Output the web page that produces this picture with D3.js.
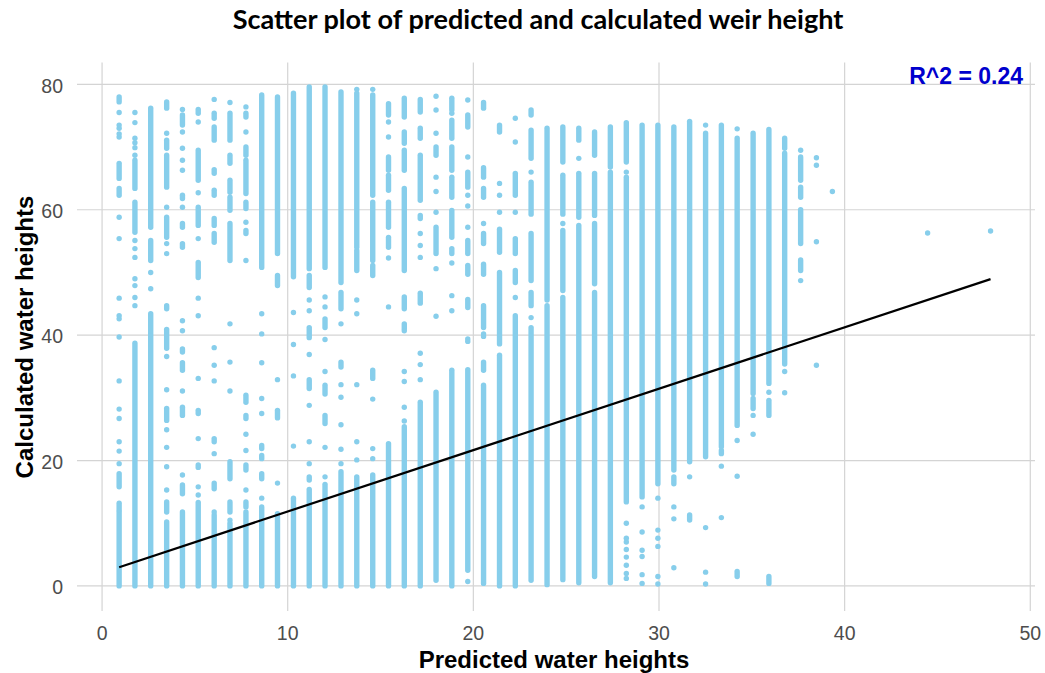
<!DOCTYPE html>
<html>
<head>
<meta charset="utf-8">
<script src="https://cdn.jsdelivr.net/npm/d3@7"></script>
<style>
  html, body { margin: 0; padding: 0; background: #ffffff; }
  svg { display: block; }
</style>
</head>
<body>
<svg id="chart" width="1045" height="673"></svg>
<script>
// Predicted water height of each column of observations
const predicted = [0.92, 1.77, 2.62, 3.48, 4.33, 5.18, 6.04, 6.89, 7.75, 8.60,
  9.45, 10.31, 11.16, 12.01, 12.87, 13.72, 14.58, 15.43, 16.28, 17.14,
  17.99, 18.84, 19.70, 20.55, 21.41, 22.26, 23.11, 23.97, 24.82, 25.68,
  26.53, 27.38, 28.24, 29.09, 29.94, 30.80, 31.65, 32.51, 33.36, 34.21,
  35.07, 35.92, 36.77, 37.63, 38.48, 39.34];

// Calculated water heights observed at each predicted value.
// A number is one observation; a [low, high] pair is a run of observations
// packed so tightly that they overlap into a continuous stripe.
const calculated = [
  [[0, 11.8], [12.1, 13.2], [15.8, 17.9], 19.5, 21.5, 23.0, 26.7, 28.2, 32.7, 39.7, 42.6, 43.1, 45.9, 55.4, 58.8, [62.3, 63.4], [65.0, 67.4], 71.6, 72.1, 73.0, 73.5, 75.5, [77.2, 78.0]],
  [[0, 38.7], 44.7, 46.0, 47.9, 49.0, 52.4, 53.8, 55.1, [56.4, 61.2], [63.4, 67.9], 68.7, 69.9, 70.7, 71.4, 73.9, 75.5],
  [[0, 43.4], 47.4, 50.0, [51.9, 55.1], [57.2, 76.2]],
  [[0, 10.2], [11.8, 13.4], 15.3, 19.0, 22.1, 24.9, [26.4, 28.3], 31.3, 36.6, [37.9, 40.9], [44.2, 44.7], 53.0, 54.6, [55.6, 58.8], 60.4, [63.6, 68.7], [69.8, 71.1], 72.2, [76.2, 77.2]],
  [[0, 11.8], [14.7, 16.1], 17.7, [27.2, 28.5], 31.1, [34.4, 35.6], [37.3, 37.8], 40.7, 42.3, [54.0, 54.6], [57.2, 57.8], 60.4, [61.8, 62.3], 66.3, 67.9, 69.8, 72.4, [73.5, 75.1], 76.0],
  [[0, 13.3], 14.5, 15.8, [18.9, 19.3], 23.5, [27.5, 28.0], 33.1, 43.1, 45.9, [49.2, 51.6], 55.4, [57.5, 60.4], 62.7, [64.7, 69.5], 74.0, [75.4, 76.0]],
  [[0, 11.3], 11.8, [15.5, 16.4], 21.1, [23.0, 23.5], 32.7, 35.2, 38.0, [54.8, 56.2], [57.5, 58.6], [62.3, 63.1], [65.8, 66.4], [71.1, 73.2], [74.6, 75.4], 77.6],
  [[0, 10.0], 10.5, [11.8, 13.4], [17.1, 19.8], 31.1, 35.7, 41.8, [51.9, 57.8], [59.9, 62.0], [62.8, 64.7], [67.4, 68.7], [71.1, 75.4], 77.1],
  [[0, 11.8], [12.6, 13.4], 15.3, [18.5, 19.3], 21.6, 24.2, [26.7, 27.2], [29.3, 30.4], 51.9, [56.2, 56.7], 58.0, [60.2, 61.2], [62.6, 67.9], [68.7, 70.0], 72.4, [74.8, 75.4], 76.4],
  [[0, 12.6], 14.0, [17.1, 17.9], [20.3, 20.8], [21.9, 22.4], 27.5, 29.9, 35.6, 40.2, 43.4, [50.8, 78.3]],
  [[0, 11.5], 16.4, [26.8, 28.0], 32.9, [47.9, 49.5], [53.0, 78.0]],
  [[0, 14.0], 22.3, 33.5, 38.5, 43.6, [49.3, 78.6]],
  [[0, 15.4], [16.9, 17.4], 19.5, 23.0, 28.8, [31.5, 32.9], 36.9, [39.6, 41.2], 43.9, 45.6, [47.6, 49.5], [50.6, 79.6]],
  [[0, 16.2], 17.4, 22.1, [25.9, 27.2], [30.6, 32.0], 34.2, 39.3, [41.2, 42.6], 44.5, 46.1, [50.8, 79.6]],
  [[0, 18.2], 19.5, 21.8, 25.7, 30.1, 32.1, [34.9, 35.7], 41.8, [44.2, 46.8], [48.4, 78.8]],
  [[0, 17.4], 20.1, 23.0, 32.1, 43.4, 45.6, [50.3, 53.5], [54.0, 78.6], 79.2],
  [[0, 17.7], 20.3, 21.9, 29.8, [33.1, 34.4], [49.5, 51.1], [51.9, 61.2], [62.3, 78.3], 79.2],
  [[0, 22.7], 44.5, 52.3, [54.0, 55.6], [57.2, 61.2], [63.1, 65.5], [66.3, 68.4], 71.6, 74.0, [75.1, 76.9]],
  [[0, 25.4], 26.3, 28.5, 32.6, 34.2, 40.7, [41.0, 41.8], [44.2, 46.1], [50.3, 63.4], [66.3, 69.5], [70.6, 72.4], [74.8, 77.8]],
  [[0, 29.3], 32.9, 35.3, 37.1, [45.1, 46.7], 52.4, 54.3, 56.2, [58.6, 59.1], [61.5, 68.7], [71.4, 73.0], [75.6, 77.6]],
  [[0.9, 30.9], 43.0, 50.6, [53.0, 57.2], 59.6, 62.9, 65.2, [68.7, 70.0], 72.2, 75.9, 78.1],
  [[0, 34.4], 43.9, 46.3, 51.5, [53.0, 53.8], [55.6, 59.9], [62.0, 65.2], [66.3, 70.0], [71.4, 74.3], 75.4, [75.9, 77.8]],
  [0.7, [2.5, 34.5], 39.0, 39.4, [44.4, 45.7], [49.7, 51.1], [53.0, 55.1], 57.2, 60.6, 62.3, [63.6, 66.0], 68.4, [73.2, 75.1], 77.5],
  [[0.4, 32.0], [34.4, 35.7], 39.8, 40.2, [41.2, 44.7], [49.7, 51.3], [54.6, 56.2], 57.8, [62.0, 63.4], [65.2, 66.7], [76.2, 77.1]],
  [[0, 36.8], [38.6, 50.0], [53.2, 56.9], 59.6, 62.3, 64.2, [72.4, 73.5]],
  [[0, 43.1], 46.0, [48.4, 50.3], [53.0, 55.4], 59.6, [62.3, 65.8], 70.8, 74.6],
  [[0.9, 41.2], 42.8, [44.7, 46.8], [48.7, 56.2], [59.3, 64.4], 66.0, [68.2, 72.7], [75.1, 75.9]],
  [[0.2, 44.7], [45.6, 73.0]],
  [[1.0, 46.0], [47.1, 56.7], 57.8, [59.3, 65.5], [67.6, 73.2]],
  [[0.5, 57.5], [58.8, 65.8], 68.2, [71.1, 73.0]],
  [[1.5, 46.8], [48.2, 57.8], [59.1, 65.8], [68.7, 72.4]],
  [[0.5, 66.0], [66.8, 73.2]],
  [1.2, 2.0, 3.3, 4.6, 5.8, 7.0, 7.6, 10.0, [13.4, 65.2], 66.0, [67.6, 73.9]],
  [0.4, 1.8, 4.7, 5.7, 8.6, 12.6, [14.2, 73.5]],
  [0.3, 1.5, 6.3, 7.6, 8.9, 14.0, [16.3, 73.5]],
  [2.9, 10.7, 12.6, [16.3, 17.4], [18.5, 73.2]],
  [[10.5, 11.3], 17.4, [19.8, 74.1]],
  [0.3, 2.2, 9.3, [20.6, 72.2], 73.5],
  [10.9, 19.1, [21.1, 21.6], [22.2, 73.5]],
  [[1.5, 2.3], 17.5, 23.2, [25.6, 71.4], 72.9],
  [24.2, 27.2, [28.3, 29.9], [30.7, 72.2]],
  [[0.4, 1.5], [27.2, 29.6], 30.9, [32.3, 72.8]],
  [30.8, 34.2, [35.4, 69.0], [69.8, 71.4]],
  [48.7, [50.3, 52.0], [54.6, 60.0], [62.0, 63.6], [64.7, 68.4], 69.5],
  [35.2, 54.9, 67.1, 68.3],
  [62.9]
];

// Two isolated observations at high predicted heights
const outlierPredicted = [44.47, 47.86];
const outlierCalculated = [56.3, 56.6];

// Least-squares fit of calculated on predicted
const fitIntercept = 2.08;
const fitSlope = 0.979;
const fitLabel = "R^2 = 0.24";

const xTicks = [0, 10, 20, 30, 40, 50];
const yTicks = [0, 20, 40, 60, 80];

const chartTitle = "Scatter plot of predicted and calculated weir height";
const xTitle = "Predicted water heights";
const yTitle = "Calculated water heights";

// ---- layout ----
const panel = { left: 77, right: 1034, top: 62.4, bottom: 611 };
const dotR = 2.7;
const dotColor = "#87ceeb";
const gridColor = "#d4d4d4";

const svg = d3.select("#chart");

const x = d3.scaleLinear().domain([-1.35, 50.2]).range([panel.left, panel.right]);
const y = d3.scaleLinear().domain([-4, 83.5]).range([panel.bottom, panel.top]);

// grid
const grid = svg.append("g");
grid.selectAll("line.vx").data(xTicks).join("line")
  .attr("x1", d => x(d)).attr("x2", d => x(d))
  .attr("y1", panel.top).attr("y2", panel.bottom)
  .attr("stroke", gridColor).attr("stroke-width", 1.2);
grid.selectAll("line.hy").data(yTicks).join("line")
  .attr("x1", panel.left).attr("x2", panel.right + 1)
  .attr("y1", d => y(d)).attr("y2", d => y(d))
  .attr("stroke", gridColor).attr("stroke-width", 1.2);

// tick labels
const tickFont = "'Liberation Sans', Arial, sans-serif";
svg.append("g").selectAll("text").data(xTicks).join("text")
  .attr("x", d => x(d)).attr("y", 639.5)
  .attr("text-anchor", "middle")
  .attr("font-family", tickFont).attr("font-size", 19.5)
  .attr("fill", "#4d4d4d")
  .text(d => d);
svg.append("g").selectAll("text").data(yTicks).join("text")
  .attr("x", 63).attr("y", d => y(d) + 8.3)
  .attr("text-anchor", "end")
  .attr("font-family", tickFont).attr("font-size", 19.5)
  .attr("fill", "#4d4d4d")
  .text(d => d);

// observations
const columns = predicted.map((p, i) => ({ p, obs: calculated[i] }));
const runs = [];
const singles = [];
columns.forEach(c => c.obs.forEach(v => {
  if (Array.isArray(v)) runs.push({ p: c.p, lo: v[0], hi: v[1] });
  else singles.push({ p: c.p, v });
}));
outlierPredicted.forEach((p, i) => singles.push({ p, v: outlierCalculated[i] }));

const pts = svg.append("g");
pts.selectAll("line").data(runs).join("line")
  .attr("x1", d => x(d.p)).attr("x2", d => x(d.p))
  .attr("y1", d => y(d.lo)).attr("y2", d => y(d.hi))
  .attr("stroke", dotColor).attr("stroke-width", dotR * 2)
  .attr("stroke-linecap", "round");
pts.selectAll("circle").data(singles).join("circle")
  .attr("cx", d => x(d.p)).attr("cy", d => y(d.v))
  .attr("r", dotR).attr("fill", dotColor);

// regression line over the observed predicted range
const allPredicted = predicted.concat(outlierPredicted);
const [pMin, pMax] = d3.extent(allPredicted);
svg.append("path")
  .datum([pMin, pMax])
  .attr("d", d3.line().x(d => x(d)).y(d => y(fitIntercept + fitSlope * d)))
  .attr("stroke", "#000").attr("stroke-width", 2.2).attr("fill", "none");

// fit annotation
svg.append("text")
  .attr("x", 1023).attr("y", 84)
  .attr("text-anchor", "end")
  .attr("font-family", tickFont).attr("font-weight", "bold")
  .attr("font-size", 23).attr("fill", "#0000cd")
  .text(fitLabel);

// axis titles
svg.append("text")
  .attr("x", 554).attr("y", 668)
  .attr("text-anchor", "middle")
  .attr("font-family", tickFont).attr("font-weight", "bold")
  .attr("font-size", 24).attr("fill", "#000")
  .text(xTitle);
svg.append("text")
  .attr("transform", "translate(33,337) rotate(-90)")
  .attr("text-anchor", "middle")
  .attr("font-family", tickFont).attr("font-weight", "bold")
  .attr("font-size", 24).attr("fill", "#000")
  .text(yTitle);

// chart title, sized to its span
const title = svg.append("text")
  .attr("x", 538).attr("y", 29)
  .attr("text-anchor", "middle")
  .attr("font-family", "Lato, 'Open Sans', sans-serif").attr("font-weight", "bold")
  .attr("font-size", 24).attr("fill", "#000")
  .text(chartTitle);
const tw = title.node().getComputedTextLength();
title.attr("font-size", 24 * 611 / tw);
</script>
</body>
</html>
